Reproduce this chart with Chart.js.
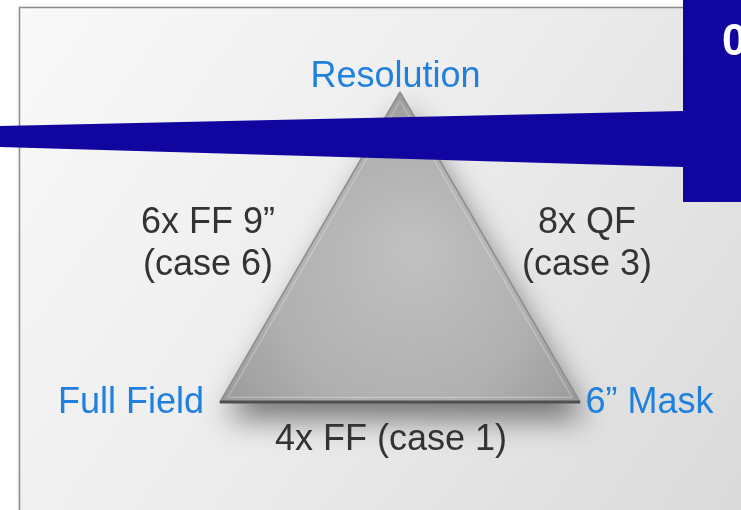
<!DOCTYPE html>
<html>
<head>
<meta charset="utf-8">
<script src="https://cdn.jsdelivr.net/npm/chart.js@4/dist/chart.umd.min.js"></script>
<style>
  html, body { margin: 0; padding: 0; background: #ffffff; }
  #wrap { width: 741px; height: 510px; position: relative; }
</style>
</head>
<body>
<div id="wrap"><canvas id="c" width="741" height="510"></canvas></div>
<script>
// Trade-off triangle: corners are the three goals, edges the compromise cases.
const cornerNames = ['Resolution', '6\u201d Mask', 'Full Field'];
const cornerX = [400, 580, 220];
const cornerY = [92, 402, 402];

// Corner captions (anchor = centre / baseline)
const cornerLabelX = [395.5, 649.5, 131];
const cornerLabelY = [87, 413, 413];

// Edge captions, one entry per edge
const edgeLines = [['6x FF 9\u201d', '(case 6)'], ['8x QF', '(case 3)'], ['4x FF (case 1)']];
const edgeLabelX = [208, 587, 391];
const edgeLabelY = [233, 233, 450];

// Slide banner: slanted bar and heading block
const barX = [0, 683, 683, 0];
const barY = [126, 111, 167, 147];
const blockX = [683, 745, 745, 683];
const blockY = [0, 0, 202, 202];
const blockText = '0';
const blockTextX = 722;
const blockTextY = 55;

// Panel frame origin
const panelX = 19.5;
const panelY = 7.5;

const toPoints = (xs, ys) => xs.map((x, i) => ({ x, y: ys[i] }));
const closed = pts => pts.concat([pts[0]]);

const trianglePts = closed(toPoints(cornerX, cornerY));
const baseEdge = [{ x: cornerX[2], y: cornerY[2] }, { x: cornerX[1], y: cornerY[1] }];

// bevel ridge: the same triangle pulled slightly toward its centroid
const cx0 = (cornerX[0] + cornerX[1] + cornerX[2]) / 3;
const cy0 = (cornerY[0] + cornerY[1] + cornerY[2]) / 3;
const bevelPts = closed(cornerX.map((x, i) => ({
  x: cx0 + (x - cx0) * 0.955,
  y: cy0 + (cornerY[i] - cy0) * 0.955
})));

const FONT = '"Liberation Sans", Arial, Helvetica, sans-serif';
const BLUE = '#1f80dd';
const NAVY = '#10069f';
const DARK = '#333333';

function triangleFill(context) {
  const chart = context.chart;
  const { ctx, chartArea, scales } = chart;
  if (!chartArea) return '#b0b0b0';
  const cx = scales.x.getPixelForValue(cx0);
  const cy = scales.y.getPixelForValue(cy0);
  const g = ctx.createRadialGradient(cx + 15, cy - 50, 10, cx, cy, 210);
  g.addColorStop(0, '#c0c0c0');
  g.addColorStop(0.6, '#b0b0b0');
  g.addColorStop(1, '#999999');
  return g;
}

const backdrop = {
  id: 'backdrop',
  beforeDraw(chart) {
    const { ctx, scales } = chart;
    const w = chart.width, h = chart.height;
    ctx.save();
    // panel with soft outer shadow
    const px = scales.x.getPixelForValue(panelX);
    const py = scales.y.getPixelForValue(panelY);
    ctx.shadowColor = 'rgba(0,0,0,0.12)';
    ctx.shadowBlur = 6;
    const g = ctx.createLinearGradient(px, py, w, h);
    g.addColorStop(0, '#f9f9f9');
    g.addColorStop(0.5, '#ececec');
    g.addColorStop(1, '#dadada');
    ctx.fillStyle = g;
    ctx.fillRect(px, py, w + 20 - px, h + 20 - py);
    ctx.shadowColor = 'transparent';
    ctx.strokeStyle = '#8c8c8c';
    ctx.lineWidth = 1.5;
    ctx.strokeRect(px, py, w + 20 - px, h + 20 - py);

    // drop shadow under the triangle
    ctx.beginPath();
    trianglePts.forEach((p, i) => {
      const x = scales.x.getPixelForValue(p.x), y = scales.y.getPixelForValue(p.y);
      if (i === 0) ctx.moveTo(x, y); else ctx.lineTo(x, y);
    });
    ctx.closePath();
    ctx.shadowColor = 'rgba(0,0,0,0.5)';
    ctx.shadowBlur = 30;
    ctx.shadowOffsetX = 6;
    ctx.shadowOffsetY = 17;
    ctx.fillStyle = '#a8a8a8';
    ctx.fill();
    ctx.restore();
  }
};

const captions = {
  id: 'captions',
  afterDatasetsDraw(chart) {
    const { ctx, scales } = chart;
    const X = v => scales.x.getPixelForValue(v);
    const Y = v => scales.y.getPixelForValue(v);
    ctx.save();
    ctx.textAlign = 'center';
    ctx.textBaseline = 'alphabetic';
    ctx.font = '36px ' + FONT;
    ctx.fillStyle = BLUE;
    cornerNames.forEach((t, i) => ctx.fillText(t, X(cornerLabelX[i]), Y(cornerLabelY[i])));
    ctx.fillStyle = DARK;
    edgeLines.forEach((lines, i) => {
      lines.forEach((t, j) => ctx.fillText(t, X(edgeLabelX[i]), Y(edgeLabelY[i]) + j * 42));
    });
    ctx.textAlign = 'left';
    ctx.font = 'bold 44px ' + FONT;
    ctx.fillStyle = '#ffffff';
    ctx.fillText(blockText, X(blockTextX), Y(blockTextY));
    ctx.restore();
  }
};

new Chart(document.getElementById('c'), {
  type: 'scatter',
  data: {
    datasets: [
      {
        label: 'block',
        data: closed(toPoints(blockX, blockY)),
        showLine: true, fill: 'shape', tension: 0,
        backgroundColor: NAVY, borderColor: NAVY, borderWidth: 0,
        pointRadius: 0, order: 0
      },
      {
        label: 'bar',
        data: closed(toPoints(barX, barY)),
        showLine: true, fill: 'shape', tension: 0,
        backgroundColor: NAVY, borderColor: NAVY, borderWidth: 0,
        pointRadius: 0, order: 1
      },
      {
        label: 'base',
        data: baseEdge,
        showLine: true, fill: false, tension: 0,
        borderColor: '#505050', borderWidth: 3, borderCapStyle: 'butt',
        pointRadius: 0, order: 2
      },
      {
        label: 'bevel',
        data: bevelPts,
        showLine: true, fill: false, tension: 0,
        borderColor: 'rgba(255,255,255,0.28)', borderWidth: 1.2,
        pointRadius: 0, order: 3
      },
      {
        label: 'triangle',
        data: trianglePts,
        showLine: true, fill: 'shape', tension: 0,
        backgroundColor: triangleFill, borderColor: '#8e8e8e', borderWidth: 1.5,
        borderJoinStyle: 'miter',
        pointRadius: 0, order: 4
      }
    ]
  },
  options: {
    responsive: false,
    animation: false,
    events: [],
    layout: { padding: 0 },
    scales: {
      x: { type: 'linear', min: 0, max: 741, display: false },
      y: { type: 'linear', min: 0, max: 510, reverse: true, display: false }
    },
    plugins: {
      legend: { display: false },
      tooltip: { enabled: false }
    }
  },
  plugins: [backdrop, captions]
});
</script>
</body>
</html>
